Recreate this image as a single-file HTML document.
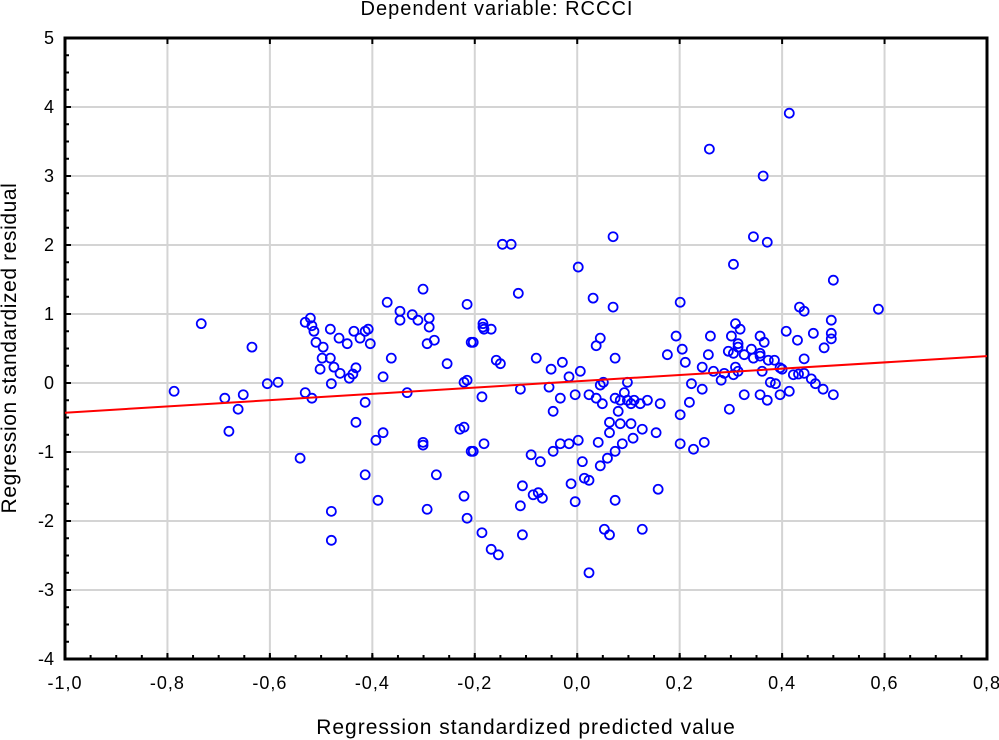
<!DOCTYPE html>
<html><head><meta charset="utf-8"><style>
body{margin:0;background:#fff;}
svg{display:block;font-family:"Liberation Sans",Arial,sans-serif;}
</style></head><body>
<svg id="chart" width="999" height="740" viewBox="0 0 999 740" xmlns="http://www.w3.org/2000/svg">
<text x="497" y="15" font-size="20" letter-spacing="1" text-anchor="middle">Dependent variable: RCCCI</text>
<text x="526" y="734" font-size="21" letter-spacing="1" text-anchor="middle">Regression standardized predicted value</text>
<text transform="translate(16,348) rotate(-90)" font-size="21" letter-spacing="0.6" text-anchor="middle">Regression standardized residual</text>
<g id="grid"></g><g id="axes"></g><g id="marks"></g>
</svg>
<script>
const xTicks=[-1.0,-0.8,-0.6,-0.4,-0.2,0.0,0.2,0.4,0.6,0.8];
const xTickLabels=["-1,0","-0,8","-0,6","-0,4","-0,2","0,0","0,2","0,4","0,6","0,8"];
const yTicks=[-4,-3,-2,-1,0,1,2,3,4,5];
const yTickLabels=["-4","-3","-2","-1","0","1","2","3","4","5"];
const predicted=[-0.301,-0.371,-0.346,-0.346,-0.322,-0.311,-0.289,-0.289,-0.279,-0.293,-0.254,-0.215,-0.207,-0.734,-0.635,-0.787,-0.688,-0.652,-0.662,-0.680,-0.605,-0.584,-0.531,-0.521,-0.518,-0.514,-0.510,-0.496,-0.482,-0.465,-0.449,-0.436,-0.424,-0.414,-0.408,-0.404,-0.498,-0.482,-0.502,-0.475,-0.463,-0.445,-0.438,-0.432,-0.480,-0.531,-0.518,-0.363,-0.379,-0.332,-0.414,-0.432,-0.379,-0.393,-0.301,-0.301,-0.221,-0.215,-0.229,-0.221,-0.207,-0.541,-0.414,-0.389,-0.275,-0.480,-0.480,-0.293,-0.221,-0.215,
0.070,-0.146,-0.129,0.002,-0.115,0.031,0.070,0.201,-0.184,-0.182,-0.168,-0.184,-0.203,-0.158,-0.150,-0.080,-0.051,-0.029,-0.016,0.006,0.045,0.037,0.074,0.193,0.205,0.176,0.211,0.260,0.256,0.244,0.266,0.281,-0.111,-0.055,-0.033,-0.004,0.023,0.037,0.049,0.045,0.051,0.098,0.074,0.084,0.092,0.098,0.105,0.111,0.123,0.137,0.162,0.080,-0.047,-0.186,0.223,0.244,0.219,0.201,0.063,0.084,0.105,0.127,0.154,0.063,0.109,0.088,0.074,0.059,0.045,0.041,0.002,-0.016,-0.033,-0.047,0.010,0.014,0.023,-0.012,-0.004,0.074,0.158,0.201,0.227,0.248,-0.182,-0.203,-0.090,-0.072,-0.107,-0.086,-0.076,-0.068,-0.111,-0.186,-0.107,-0.168,-0.154,0.053,0.063,0.127,0.023,
0.344,0.371,0.305,0.500,0.434,0.443,0.588,0.496,0.496,0.496,0.461,0.408,0.430,0.482,0.443,0.309,0.318,0.301,0.357,0.365,0.314,0.314,0.295,0.305,0.326,0.340,0.344,0.357,0.357,0.373,0.385,0.396,0.400,0.287,0.305,0.309,0.314,0.361,0.422,0.432,0.443,0.457,0.465,0.480,0.500,0.377,0.387,0.414,0.396,0.371,0.357,0.326,0.297,0.258,0.363,0.414];
const residual=[1.36,1.17,1.04,0.91,0.99,0.91,0.94,0.81,0.62,0.57,0.28,1.14,0.59,0.86,0.52,-0.12,-0.22,-0.17,-0.38,-0.70,-0.01,0.01,0.88,0.94,0.83,0.75,0.59,0.52,0.78,0.65,0.57,0.75,0.65,0.75,0.78,0.57,0.36,0.36,0.20,0.23,0.14,0.07,0.13,0.22,-0.01,-0.14,-0.22,0.36,0.09,-0.14,-0.28,-0.57,-0.72,-0.83,-0.86,-0.90,0.01,0.04,-0.67,-0.64,-0.99,-1.09,-1.33,-1.70,-1.33,-1.86,-2.28,-1.83,-1.64,-1.96,
2.12,2.01,2.01,1.68,1.30,1.23,1.10,1.17,0.86,0.78,0.78,0.81,0.59,0.33,0.28,0.36,0.20,0.30,0.09,0.17,0.65,0.54,0.36,0.68,0.49,0.41,0.30,0.68,0.41,0.23,0.17,0.04,-0.09,-0.06,-0.22,-0.17,-0.17,-0.22,-0.30,-0.03,0.01,0.01,-0.22,-0.25,-0.14,-0.25,-0.30,-0.25,-0.30,-0.25,-0.30,-0.41,-0.41,-0.20,-0.01,-0.09,-0.28,-0.46,-0.57,-0.59,-0.59,-0.67,-0.72,-0.72,-0.80,-0.88,-0.99,-1.09,-1.20,-0.86,-0.83,-0.88,-0.88,-0.99,-1.14,-1.38,-1.41,-1.46,-1.72,-1.70,-1.54,-0.88,-0.96,-0.86,-0.88,-0.99,-1.04,-1.14,-1.49,-1.62,-1.59,-1.67,-1.78,-2.17,-2.20,-2.41,-2.49,-2.12,-2.20,-2.12,-2.75,
2.12,2.04,1.72,1.49,1.10,1.04,1.07,0.91,0.72,0.64,0.72,0.75,0.62,0.51,0.35,0.86,0.78,0.68,0.68,0.59,0.57,0.52,0.46,0.43,0.41,0.49,0.36,0.43,0.39,0.33,0.33,0.22,0.20,0.14,0.12,0.23,0.17,0.17,0.12,0.13,0.14,0.06,-0.01,-0.09,-0.17,0.01,-0.01,-0.12,-0.17,-0.25,-0.17,-0.17,-0.38,3.39,3.00,3.91];
const fitIntercept=[0.025];
const fitSlope=[0.456];

const L=65,R=987,T=38,B=659,xMin=-1,xMax=0.8,yMin=-4,yMax=5;
const X=v=>L+(v-xMin)/(xMax-xMin)*(R-L);
const Y=v=>B-(v-yMin)/(yMax-yMin)*(B-T);
const NS="http://www.w3.org/2000/svg";
function mk(tag,parent,attrs){const e=document.createElementNS(NS,tag);for(const k in attrs)e.setAttribute(k,attrs[k]);parent.appendChild(e);return e;}
const grid=document.getElementById('grid'),axes=document.getElementById('axes'),marks=document.getElementById('marks');
xTicks.forEach((v,i)=>{
  if(i>0&&i<xTicks.length-1){const g=mk('line',grid,{x1:X(v),x2:X(v),y1:T,y2:B,stroke:'#d4d4d4','stroke-width':2});
  
  }
  const t=mk('line',axes,{x1:X(v),x2:X(v),y1:B,y2:B-6,stroke:'#000','stroke-width':2});
  
  
  const t2=mk('line',axes,{x1:X(v),x2:X(v),y1:T,y2:T+6,stroke:'#000','stroke-width':2});
  
  
  const lb=mk('text',axes,{x:X(v),y:B+30,'font-size':18,'letter-spacing':1,'text-anchor':'middle'});lb.textContent=xTickLabels[i];
  
  
});
for(let v=xMin;v<xMax-1e-9;v+=0.05){const m=mk('line',axes,{x1:X(v),x2:X(v),y1:B,y2:B-4,stroke:'#000','stroke-width':2});
  
  }
yTicks.forEach((v,i)=>{
  if(i>0&&i<yTicks.length-1){const g=mk('line',grid,{x1:L,x2:R,y1:Y(v),y2:Y(v),stroke:'#d4d4d4','stroke-width':2});
  
  }
  const t=mk('line',axes,{x1:L,x2:L+6,y1:Y(v),y2:Y(v),stroke:'#000','stroke-width':2});
  
  
  const lb=mk('text',axes,{x:L-11,y:Y(v)+6,'font-size':18,'text-anchor':'end'});lb.textContent=yTickLabels[i];
  
  
});
for(let v=yMin;v<yMax;v+=0.25){const m=mk('line',axes,{x1:L,x2:L+4,y1:Y(v),y2:Y(v),stroke:'#000','stroke-width':2});
  
  }
const frame=mk('rect',axes,{x:L,y:T,width:R-L,height:B-T,fill:'none',stroke:'#000','stroke-width':3});


predicted.forEach((p,i)=>{
  const c=mk('circle',marks,{cx:X(p),cy:Y(residual[i]),r:4.5,fill:'none',stroke:'#0000ff','stroke-width':1.8});
  
  
});
const fl=mk('line',marks,{x1:X(xMin),y1:Y(fitIntercept[0]+fitSlope[0]*xMin),x2:X(xMax),y2:Y(fitIntercept[0]+fitSlope[0]*xMax),stroke:'#ff0000','stroke-width':2});


</script>
</body></html>
